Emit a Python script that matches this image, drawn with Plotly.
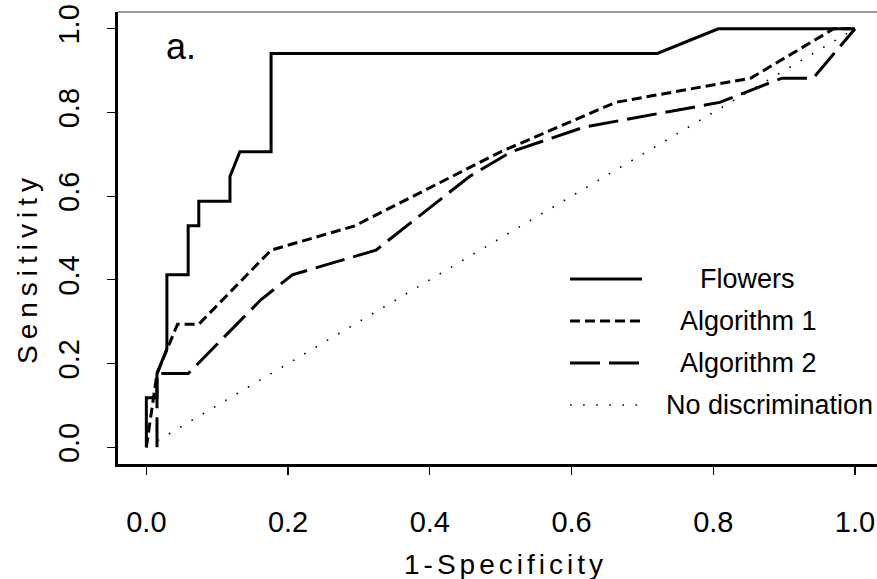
import plotly.graph_objects as go

# ---- data ----
flowers_x = [0, 0, 0.015, 0.015, 0.029, 0.029, 0.059, 0.059, 0.074, 0.074, 0.118, 0.118, 0.132, 0.176, 0.176, 0.721, 0.807, 1.0]
flowers_y = [0, 0.118, 0.118, 0.176, 0.235, 0.412, 0.412, 0.529, 0.529, 0.588, 0.588, 0.647, 0.706, 0.706, 0.941, 0.941, 1.0, 1.0]

alg1_x = [0, 0.015, 0.044, 0.074, 0.176, 0.294, 0.500, 0.662, 0.853, 0.970, 1.0]
alg1_y = [0, 0.176, 0.294, 0.294, 0.471, 0.529, 0.706, 0.824, 0.882, 1.0, 1.0]

alg2_x = [0.015, 0.015, 0.059, 0.162, 0.206, 0.324, 0.456, 0.515, 0.618, 0.809, 0.897, 0.941, 1.0]
alg2_y = [0, 0.176, 0.176, 0.353, 0.412, 0.471, 0.647, 0.706, 0.765, 0.824, 0.882, 0.882, 1.0]

diag_x = [0, 1]
diag_y = [0, 1]

tick_vals = [0.0, 0.2, 0.4, 0.6, 0.8, 1.0]
tick_text = ["0.0", "0.2", "0.4", "0.6", "0.8", "1.0"]

series_names = ["Flowers", "Algorithm 1", "Algorithm 2", "No discrimination"]

FONT = "Liberation Sans, Arial, sans-serif"
W, H = 877, 579
L, R, T, B = 118, 0, 12, 115

styles = [
    dict(color="black", width=3, dash="solid"),
    dict(color="black", width=3, dash="10px,5px"),
    dict(color="black", width=3, dash="30px,9px"),
    dict(color="black", width=1.6, dash="1.6px,11.5px"),
]

fig = go.Figure()
for xs, ys, name, st in zip([flowers_x, alg1_x, alg2_x, diag_x],
                            [flowers_y, alg1_y, alg2_y, diag_y],
                            series_names, styles):
    fig.add_trace(go.Scatter(x=xs, y=ys, mode="lines", name=name, line=st,
                             showlegend=False, cliponaxis=False, hoverinfo="skip"))

# legend drawn manually (samples + labels)
pw = W - L - R
ph = H - T - B
def px_x(p):
    return (p - L) / pw
def px_y(p):
    return (H - B - p) / ph

leg_rows = [279, 321, 363, 405]
leg_text_cx = [747, 748.5, 748.5, 769]
shapes = []
annotations = []
for name, st, yy, cx in zip(series_names, styles, leg_rows, leg_text_cx):
    shapes.append(dict(type="line", xref="paper", yref="paper",
                       x0=px_x(570), x1=px_x(642), y0=px_y(yy), y1=px_y(yy),
                       line=dict(color="black", width=st["width"], dash=st["dash"])))
    annotations.append(dict(text=name, xref="paper", yref="paper",
                            x=px_x(cx), y=px_y(yy), xanchor="center", yanchor="middle",
                            showarrow=False, font=dict(family=FONT, size=27, color="black")))

# top frame line (thin)
shapes.append(dict(type="line", xref="paper", yref="paper", x0=0, x1=1, y0=1, y1=1,
                   line=dict(color="#333333", width=1)))

# axis titles and panel label
annotations.append(dict(text='<span style="letter-spacing:6px">Sensitivity</span>',
                        xref="paper", yref="paper",
                        x=px_x(27), y=px_y(268), xanchor="center", yanchor="middle",
                        textangle=-90, showarrow=False,
                        font=dict(family=FONT, size=28, color="black")))
annotations.append(dict(text='<span style="letter-spacing:4px">1-Specificity</span>',
                        xref="paper", yref="paper",
                        x=px_x(505), y=px_y(564), xanchor="center", yanchor="middle",
                        showarrow=False, font=dict(family=FONT, size=28, color="black")))
annotations.append(dict(text="a.", xref="paper", yref="paper",
                        x=px_x(181), y=px_y(47), xanchor="center", yanchor="middle",
                        showarrow=False, font=dict(family=FONT, size=36, color="black")))

fig.update_layout(
    width=W, height=H,
    margin=dict(l=L, r=R, t=T, b=B, pad=0),
    paper_bgcolor="white", plot_bgcolor="white",
    shapes=shapes, annotations=annotations,
    showlegend=False, hovermode=False,
)
axis_common = dict(showgrid=False, zeroline=False, showline=True, linecolor="black",
                   linewidth=3, ticks="outside", ticklen=8, tickwidth=1.2,
                   tickcolor="black", tickvals=tick_vals, ticktext=tick_text,
                   tickfont=dict(family=FONT, size=29, color="black"))
fig.update_xaxes(range=[-0.04, 1.031], ticklabelstandoff=22, **axis_common)
fig.update_yaxes(range=[-0.04, 1.04], tickangle=-90, ticklabelstandoff=16, **axis_common)

fig.write_html("out.html",
               config={"displayModeBar": False, "staticPlot": True},
               post_script="document.body.style.margin='0';document.body.style.overflow='hidden';")
